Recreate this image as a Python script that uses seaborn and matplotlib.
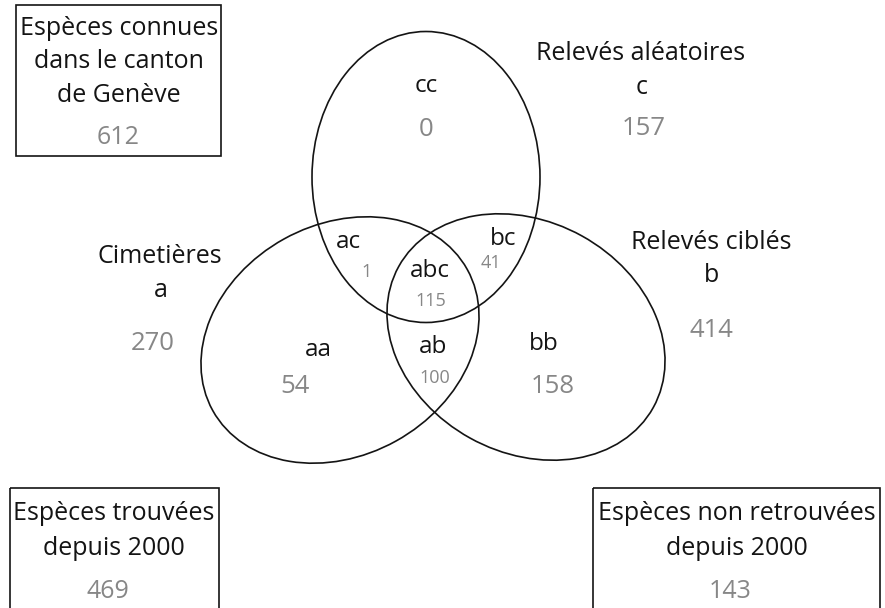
import seaborn as sns
import matplotlib.pyplot as plt
from matplotlib.patches import Ellipse, Rectangle

# Données du diagramme
set_names = ['Cimetières', 'Relevés ciblés', 'Relevés aléatoires']
set_letters = ['a', 'b', 'c']
set_totals = [270, 414, 157]

region_codes = ['aa', 'bb', 'cc', 'ac', 'bc', 'ab', 'abc']
region_counts = [54, 158, 0, 1, 41, 100, 115]

box_titles = [['Espèces connues', 'dans le canton', 'de Genève'],
              ['Espèces trouvées', 'depuis 2000'],
              ['Espèces non retrouvées', 'depuis 2000']]
box_counts = [612, 469, 143]

# Mise en page (en pixels)
ellipses = [((340, 340), 291, 231, -29),   # a
            ((526, 337), 291, 231, 29),    # b
            ((426, 177), 228, 291, 0)]     # c
set_pos = [((160, 263), (161, 297), (153, 350)),
           ((711, 249), (712, 282), (711, 337)),
           ((641, 60), (642, 94), (644, 135))]
region_pos = [((318, 356), (295, 393)), ((544, 350), (553, 393)),
              ((426, 92), (426, 136)), ((348, 248), (367, 277)),
              ((503, 245), (491, 268)), ((433, 353), (435, 383)),
              ((430, 277), (431, 306))]
region_big = [True, True, True, False, False, False, False]
boxes = [((16, 5), 205, 151, 119, [35, 68, 102], (118, 144)),
         ((10, 488), 209, 140, 114, [520, 555], (108, 598)),
         ((593, 488), 287, 140, 737, [520, 555], (730, 598))]

sns.set_style('white')
plt.rcParams['font.family'] = ['Open Sans', 'DejaVu Sans']
black = '#141414'
grey = '#878787'

fig = plt.figure(figsize=(8.85, 6.08), dpi=100)
ax = fig.add_axes([0, 0, 1, 1])
ax.set_xlim(0, 885)
ax.set_ylim(608, 0)
ax.set_axis_off()

for (c, w, h, ang) in ellipses:
    ax.add_patch(Ellipse(c, w, h, angle=ang, fill=False, ec=black, lw=1.2))

for name, letter, total, (p1, p2, p3) in zip(set_names, set_letters, set_totals, set_pos):
    ax.text(*p1, name, ha='center', va='baseline', fontsize=18, color=black)
    ax.text(*p2, letter, ha='center', va='baseline', fontsize=18, color=black)
    ax.text(*p3, str(total), ha='center', va='baseline', fontsize=18.5, color=grey)

for code, n, (pc, pn), big in zip(region_codes, region_counts, region_pos, region_big):
    ax.text(*pc, code, ha='center', va='baseline', fontsize=17.5, color=black)
    ax.text(*pn, str(n), ha='center', va='baseline',
            fontsize=18.5 if big else 13, color=grey)

for lines, n, (xy, w, h, cx, ys, pn) in zip(box_titles, box_counts, boxes):
    ax.add_patch(Rectangle(xy, w, h, fill=False, ec=black, lw=1.2))
    for line, y in zip(lines, ys):
        ax.text(cx, y, line, ha='center', va='baseline', fontsize=18, color=black)
    ax.text(*pn, str(n), ha='center', va='baseline', fontsize=18, color=grey)

fig.savefig('out.png', dpi=100)
